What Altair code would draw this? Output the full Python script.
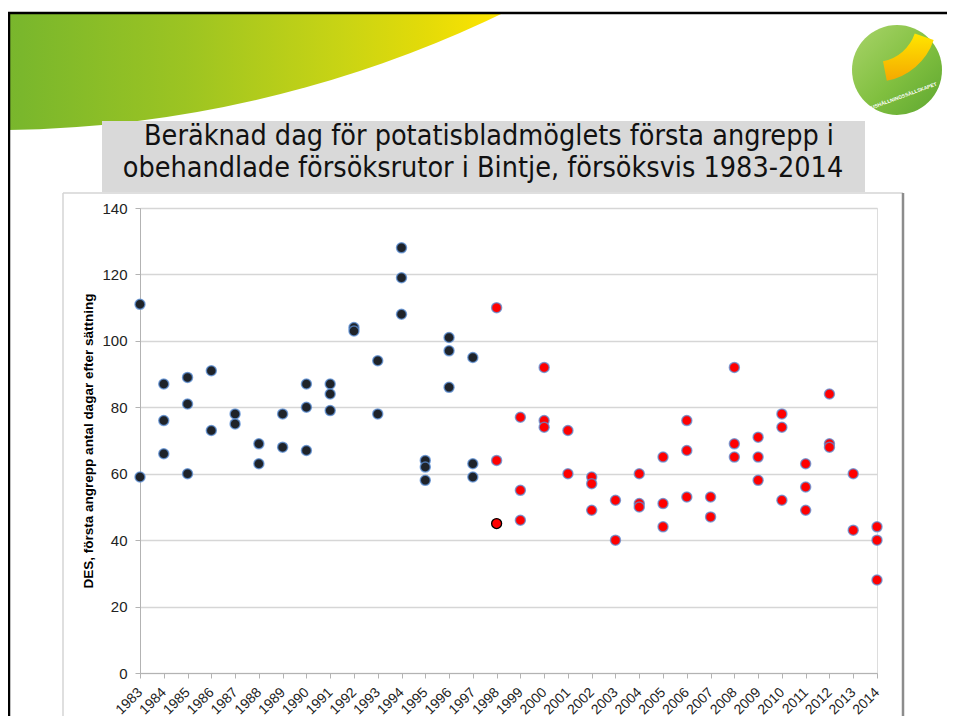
import altair as alt
import pandas as pd

# ---------------- data ----------------
years_dark = [1983, 1983, 1984, 1984, 1984, 1985, 1985, 1985, 1986, 1986,
              1987, 1987, 1988, 1988, 1989, 1989, 1990, 1990, 1990,
              1991, 1991, 1991, 1992, 1992, 1993, 1993, 1994, 1994, 1994,
              1995, 1995, 1995, 1996, 1996, 1996, 1997, 1997, 1997]
des_dark = [111, 59, 87, 76, 66, 89, 81, 60, 91, 73,
            78, 75, 69, 63, 78, 68, 87, 80, 67,
            87, 84, 79, 104, 103, 94, 78, 128, 119, 108,
            64, 62, 58, 101, 97, 86, 95, 63, 59]

years_red = [1998, 1998, 1999, 1999, 1999, 2000, 2000, 2000, 2001, 2001,
             2002, 2002, 2002, 2003, 2003, 2004, 2004, 2004, 2005, 2005, 2005,
             2006, 2006, 2006, 2007, 2007, 2008, 2008, 2008, 2009, 2009, 2009,
             2010, 2010, 2010, 2011, 2011, 2011, 2012, 2012, 2012, 2013, 2013,
             2014, 2014, 2014]
des_red = [110, 64, 77, 55, 46, 92, 76, 74, 73, 60,
           59, 57, 49, 52, 40, 60, 51, 50, 65, 51, 44,
           76, 67, 53, 53, 47, 92, 69, 65, 71, 65, 58,
           78, 74, 52, 63, 56, 49, 84, 69, 68, 60, 43,
           44, 40, 28]

years_special = [1998]
des_special = [45]

year_ticks = list(range(1983, 2015))
y_ticks = [0, 20, 40, 60, 80, 100, 120, 140]

title_lines = ["Beräknad dag för potatisbladmöglets första angrepp i",
               "obehandlade försöksrutor i Bintje, försöksvis 1983-2014"]
y_title = "DES, första angrepp antal dagar efter sättning"
logo_text = "HUSHÅLLNINGSSÄLLSKAPET"

# ---------------- layout ----------------
W, H = 737, 465
PAD = {"left": 132, "top": 200, "right": 70, "bottom": 43}
one = pd.DataFrame({"k": [0]})

df_dark = pd.DataFrame({"year": years_dark, "des": des_dark})
df_red = pd.DataFrame({"year": years_red, "des": des_red})
df_spec = pd.DataFrame({"year": years_special, "des": des_special})

x_enc = alt.X("year:O",
              scale=alt.Scale(type="point", domain=year_ticks, padding=0),
              axis=alt.Axis(labelAngle=315, labelAlign="right",
                            labelBaseline="middle",
                            grid=False, tickSize=5, labelPadding=12,
                            labelFontSize=14, labelColor="#222",
                            labelFont="Liberation Sans",
                            domainColor="#b3b3b3", tickColor="#b3b3b3",
                            labelOverlap=False),
              title=None)
y_enc = alt.Y("des:Q",
              scale=alt.Scale(domain=[0, 140], nice=False),
              axis=alt.Axis(values=y_ticks, grid=True, gridColor="#d6d6d6",
                            gridWidth=1.5, tickSize=5, labelPadding=8,
                            labelFontSize=15, labelColor="#222",
                            labelFont="Liberation Sans",
                            domainColor="#b3b3b3", tickColor="#b3b3b3",
                            titleFont="Liberation Sans", titleFontSize=13.5,
                            titleFontWeight="bold", titleColor="#000",
                            titlePadding=6),
              title=y_title)

pt_size = 100
dark = alt.Chart(df_dark).mark_point(
    filled=True, shape="circle", size=pt_size, fill="#1f2329", opacity=1,
    stroke="#5b8fd6", strokeWidth=1.5, strokeOpacity=0.75
).encode(x=x_enc, y=y_enc)

red = alt.Chart(df_red).mark_point(
    filled=True, shape="circle", size=pt_size, fill="#ff0000", opacity=1,
    stroke="#5b8fd6", strokeWidth=1.5, strokeOpacity=0.75
).encode(x=x_enc, y=y_enc)

spec = alt.Chart(df_spec).mark_point(
    filled=True, shape="circle", size=pt_size, fill="#ff0000", opacity=1,
    stroke="#000000", strokeWidth=1.3
).encode(x=x_enc, y=y_enc)

# ---------------- decorations (slide background) ----------------
swoosh = alt.Chart(one).mark_arc(
    theta=2.6, theta2=3.1416, radius=1177,
    fill=alt.LinearGradient(
        gradient="linear", x1=0, x2=1, y1=0, y2=0,
        stops=[alt.GradientStop(offset=0.0, color="#78b52e"),
               alt.GradientStop(offset=0.05, color="#7ab72c"),
               alt.GradientStop(offset=0.32, color="#9cc422"),
               alt.GradientStop(offset=0.58, color="#c9d414"),
               alt.GradientStop(offset=0.72, color="#e4db08"),
               alt.GradientStop(offset=0.84, color="#ffe500"),
               alt.GradientStop(offset=1.0, color="#ffe500")])
).encode(x=alt.value(-148.8), y=alt.value(-1254.8))

white_strip = alt.Chart(one).mark_rect(fill="white").encode(
    x=alt.value(-140), x2=alt.value(820), y=alt.value(-210), y2=alt.value(-196))

frame_top = alt.Chart(one).mark_rule(color="black", strokeWidth=2.5).encode(
    x=alt.value(-132), x2=alt.value(820), y=alt.value(-195))
frame_left = alt.Chart(one).mark_rule(color="black", strokeWidth=2.5).encode(
    x=alt.value(-131), y=alt.value(-195), y2=alt.value(520))

logo_circle = alt.Chart(one).mark_arc(
    theta=0, theta2=6.2832, radius=45,
    fill=alt.LinearGradient(
        gradient="linear", x1=0, x2=1, y1=0, y2=1,
        stops=[alt.GradientStop(offset=0, color="#a9d46a"),
               alt.GradientStop(offset=0.55, color="#80bf3f"),
               alt.GradientStop(offset=1, color="#5da630")])
).encode(x=alt.value(757), y=alt.value(-138))

logo_leaf = alt.Chart(one).mark_arc(
    theta=1.9, theta2=2.95, radius=62, radius2=42,
    fill=alt.LinearGradient(
        gradient="linear", x1=0, x2=0, y1=0, y2=1,
        stops=[alt.GradientStop(offset=0, color="#ffe600"),
               alt.GradientStop(offset=1, color="#f5a800")])
).encode(x=alt.value(735), y=alt.value(-188))

logo_label = alt.Chart(one).mark_text(
    text=logo_text, fontSize=5, color="white", angle=340,
    font="Liberation Sans", fontWeight="bold"
).encode(x=alt.value(762), y=alt.value(-112))

title_box = alt.Chart(one).mark_rect(fill="#d9d9d9").encode(
    x=alt.value(-38), x2=alt.value(725), y=alt.value(-87), y2=alt.value(-16))

title_font = "DejaVu Sans Condensed, Liberation Sans"
title1 = alt.Chart(one).mark_text(
    text=title_lines[0], fontSize=28.5, color="#111", font=title_font,
    align="center", baseline="alphabetic"
).encode(x=alt.value(349), y=alt.value(-63))
title2 = alt.Chart(one).mark_text(
    text=title_lines[1], fontSize=28.5, color="#111", font=title_font,
    align="center", baseline="alphabetic"
).encode(x=alt.value(343), y=alt.value(-31))

box_left = alt.Chart(one).mark_rule(color="#d4d4d4", strokeWidth=1.5).encode(
    x=alt.value(-77), y=alt.value(-15), y2=alt.value(520))
box_top = alt.Chart(one).mark_rule(color="#d4d4d4", strokeWidth=1.5).encode(
    x=alt.value(-77), x2=alt.value(763), y=alt.value(-15))
box_right = alt.Chart(one).mark_rule(color="#8c8c8c", strokeWidth=2.5).encode(
    x=alt.value(763), y=alt.value(-15), y2=alt.value(520))

chart = alt.layer(
    swoosh, white_strip, frame_top, frame_left,
    logo_circle, logo_leaf, logo_label,
    title_box, title1, title2,
    box_left, box_top, box_right,
    dark, red, spec
).properties(
    width=W, height=H,
    autosize=alt.AutoSizeParams(type="none"),
    padding=PAD
).configure_view(strokeOpacity=0).configure(background="white")

chart.save("out.html", embed_options={"renderer": "svg", "actions": False})
